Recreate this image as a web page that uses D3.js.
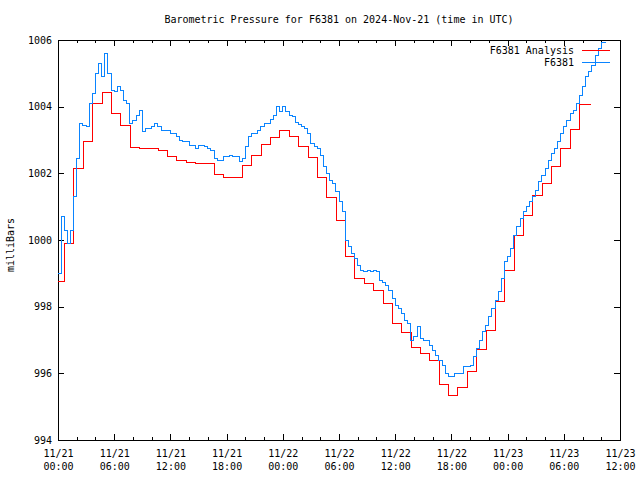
<!DOCTYPE html>
<html>
<head>
<meta charset="utf-8">
<script src="https://cdn.jsdelivr.net/npm/d3@7"></script>
<style>
body { margin: 0; background: #fff; }
text { font-family: "DejaVu Sans Mono", monospace; font-size: 10px; fill: #000; }
</style>
</head>
<body>
<div id="chart"></div>
<script>
// chart text
var title = "Barometric Pressure for F6381 on 2024-Nov-21 (time in UTC)";
var yLabel = "milliBars";
var seriesNames = ["F6381 Analysis", "F6381"];

// axes
var xStart = Date.UTC(2024, 10, 21, 0, 0);
var xEnd = Date.UTC(2024, 10, 23, 12, 0);
var yTicks = [994, 996, 998, 1000, 1002, 1004, 1006];

// analysis: hourly steps, first one starting 11/20 23:42
var redStart = Date.UTC(2024, 10, 20, 23, 42);
var redStepMin = 60;
var redEnd = Date.UTC(2024, 10, 23, 8, 54);
var redValues = [
  998.75, 999.9, 1002.15, 1002.97, 1004.1, 1004.43, 1003.8, 1003.45, 1002.78, 1002.75, 1002.75, 1002.68,
  1002.52, 1002.38, 1002.33, 1002.3, 1002.3, 1001.98, 1001.87, 1001.87, 1002.25, 1002.55, 1002.87, 1003.07,
  1003.3, 1003.1, 1002.8, 1002.47, 1001.88, 1001.28, 1000.6, 999.5, 998.85, 998.7, 998.5, 998.1,
  997.5, 997.22, 996.78, 996.6, 996.38, 995.68, 995.35, 995.58, 996.05, 996.72, 997.3, 998.15,
  999.1, 1000.15, 1000.75, 1001.35, 1001.7, 1002.2, 1002.75, 1003.33, 1004.08
];

// station obs: every 20 minutes from 11/21 00:00
var blueStart = Date.UTC(2024, 10, 21, 0, 0);
var blueStepMin = 20;
var blueEnd = Date.UTC(2024, 10, 23, 10, 30);
var blueValues = [
  999.0, 1000.7, 1000.3, 999.9, 1000.3, 1001.3, 1002.45, 1003.5, 1003.45, 1003.4, 1004.1, 1004.4,
  1005.0, 1005.3, 1004.9, 1005.6, 1005.0, 1004.5, 1004.45, 1004.6, 1004.5, 1004.2, 1004.1, 1003.5,
  1003.6, 1003.75, 1003.9, 1003.25, 1003.35, 1003.35, 1003.4, 1003.5, 1003.4, 1003.3, 1003.3, 1003.3,
  1003.2, 1003.2, 1003.1, 1003.0, 1002.95, 1002.95, 1002.85, 1002.85, 1002.75, 1002.85, 1002.85, 1002.8,
  1002.75, 1002.7, 1002.45, 1002.4, 1002.4, 1002.5, 1002.5, 1002.55, 1002.5, 1002.5, 1002.35, 1002.45,
  1002.8, 1003.1, 1003.2, 1003.2, 1003.3, 1003.4, 1003.5, 1003.5, 1003.62, 1003.75, 1004.0, 1003.85,
  1004.0, 1003.85, 1003.75, 1003.7, 1003.53, 1003.48, 1003.42, 1003.35, 1003.2, 1002.9, 1002.8, 1002.75,
  1002.55, 1002.2, 1002.0, 1001.8, 1001.7, 1001.45, 1001.15, 1000.85, 1000.0, 999.8, 999.6, 999.45,
  999.25, 999.1, 999.05, 999.08, 999.05, 999.1, 999.05, 998.8, 998.72, 998.65, 998.5, 998.25,
  998.05, 997.95, 997.8, 997.6, 997.5, 997.0, 997.1, 997.4, 997.05, 997.0, 996.98, 996.85,
  996.7, 996.55, 996.4, 996.25, 996.0, 995.9, 995.9, 996.0, 996.0, 996.0, 996.22, 996.22,
  996.25, 996.5, 996.75, 997.0, 997.25, 997.45, 997.7, 997.95, 998.2, 998.45, 998.85, 999.35,
  999.5, 999.75, 1000.15, 1000.4, 1000.65, 1000.85, 1001.0, 1001.15, 1001.3, 1001.5, 1001.75, 1001.95,
  1002.15, 1002.4, 1002.6, 1002.75, 1002.95, 1003.2, 1003.4, 1003.6, 1003.8, 1003.9, 1004.1, 1004.35,
  1004.6, 1004.9, 1005.05, 1005.25, 1005.55, 1005.75, 1005.93, 1005.93
];

var width = 640, height = 480;
var plotL = 58, plotR = 620, plotT = 40, plotB = 440;

var svg = d3.select("#chart").append("svg")
  .attr("width", width)
  .attr("height", height);

var x = d3.scaleUtc().domain([xStart, xEnd]).range([plotL, plotR]);
var y = d3.scaleLinear().domain([994, 1006]).range([plotB, plotT]);

function toPoints(start, stepMin, vals, end) {
  var pts = vals.map(function(v, i) { return { t: new Date(start + i * stepMin * 60000), v: v }; });
  pts.push({ t: new Date(end), v: vals[vals.length - 1] });
  return pts;
}

var majorTimes = d3.utcHour.every(6).range(new Date(xStart), new Date(xEnd + 1));
var minorTimes = d3.utcHour.every(2).range(new Date(xStart), new Date(xEnd + 1))
  .filter(function(d) { return d.getUTCHours() % 6 != 0; });

var tickStyle = function(g) {
  g.select(".domain").remove();
  g.selectAll("line").attr("stroke", "#000").attr("shape-rendering", "crispEdges");
};

// minor ticks, bottom and top
svg.append("g").attr("transform", "translate(0," + plotB + ")")
  .call(d3.axisBottom(x).tickValues(minorTimes).tickSize(-3).tickFormat(""))
  .call(tickStyle);
svg.append("g").attr("transform", "translate(0," + plotT + ")")
  .call(d3.axisTop(x).tickValues(minorTimes).tickSize(-3).tickFormat(""))
  .call(tickStyle);

// major ticks
var xAxis = svg.append("g").attr("transform", "translate(0," + plotB + ")")
  .call(d3.axisBottom(x).tickValues(majorTimes).tickSize(-6).tickPadding(17))
  .call(tickStyle);
xAxis.selectAll("text").each(function(d) {
  var t = d3.select(this).text("").attr("font-family", null).attr("font-size", null).attr("dy", null);
  t.append("tspan").attr("x", 0).attr("y", 17).text(d3.utcFormat("%m/%d")(d));
  t.append("tspan").attr("x", 0).attr("y", 30).text(d3.utcFormat("%H:%M")(d));
});
svg.append("g").attr("transform", "translate(0," + plotT + ")")
  .call(d3.axisTop(x).tickValues(majorTimes).tickSize(-6).tickFormat(""))
  .call(tickStyle);

var yAxis = svg.append("g").attr("transform", "translate(" + plotL + ",0)")
  .call(d3.axisLeft(y).tickValues(yTicks).tickSize(-6).tickPadding(6).tickFormat(d3.format("d")))
  .call(tickStyle);
yAxis.selectAll("text").attr("font-family", null).attr("font-size", null);
svg.append("g").attr("transform", "translate(" + plotR + ",0)")
  .call(d3.axisRight(y).tickValues(yTicks).tickSize(-6).tickFormat(""))
  .call(tickStyle);

// border
svg.append("rect")
  .attr("x", plotL + 0.5).attr("y", plotT + 0.5)
  .attr("width", plotR - plotL).attr("height", plotB - plotT)
  .attr("fill", "none").attr("stroke", "#000").attr("shape-rendering", "crispEdges");

// titles
svg.append("text").attr("x", (plotL + plotR) / 2).attr("y", 23)
  .attr("text-anchor", "middle").text(title);
svg.append("text").attr("transform", "translate(14,245) rotate(-90)")
  .attr("text-anchor", "middle").text(yLabel);

// series
svg.append("clipPath").attr("id", "plotclip").append("rect")
  .attr("x", plotL).attr("y", plotT).attr("width", plotR - plotL).attr("height", plotB - plotT);

var line = d3.line()
  .x(function(d) { return x(d.t); })
  .y(function(d) { return y(d.v); })
  .curve(d3.curveStepAfter);

var series = [
  { name: seriesNames[0], color: "#ff0000", pts: toPoints(redStart, redStepMin, redValues, redEnd) },
  { name: seriesNames[1], color: "#0a84ff", pts: toPoints(blueStart, blueStepMin, blueValues, blueEnd) }
];

var plot = svg.append("g").attr("clip-path", "url(#plotclip)");
plot.selectAll("path.series").data(series).enter().append("path")
  .attr("class", "series")
  .attr("fill", "none")
  .attr("stroke", function(d) { return d.color; })
  .attr("stroke-width", 1)
  .attr("shape-rendering", "crispEdges")
  .attr("d", function(d) { return line(d.pts); });

// legend
var legend = svg.append("g").selectAll("g").data(series).enter().append("g")
  .attr("transform", function(d, i) { return "translate(0," + (50 + i * 12.5) + ")"; });
legend.append("text").attr("x", 574).attr("y", 3.5).attr("text-anchor", "end")
  .text(function(d) { return d.name; });
legend.append("line").attr("x1", 582).attr("x2", 610).attr("y1", 0).attr("y2", 0)
  .attr("stroke", function(d) { return d.color; }).attr("shape-rendering", "crispEdges");
</script>
</body>
</html>
